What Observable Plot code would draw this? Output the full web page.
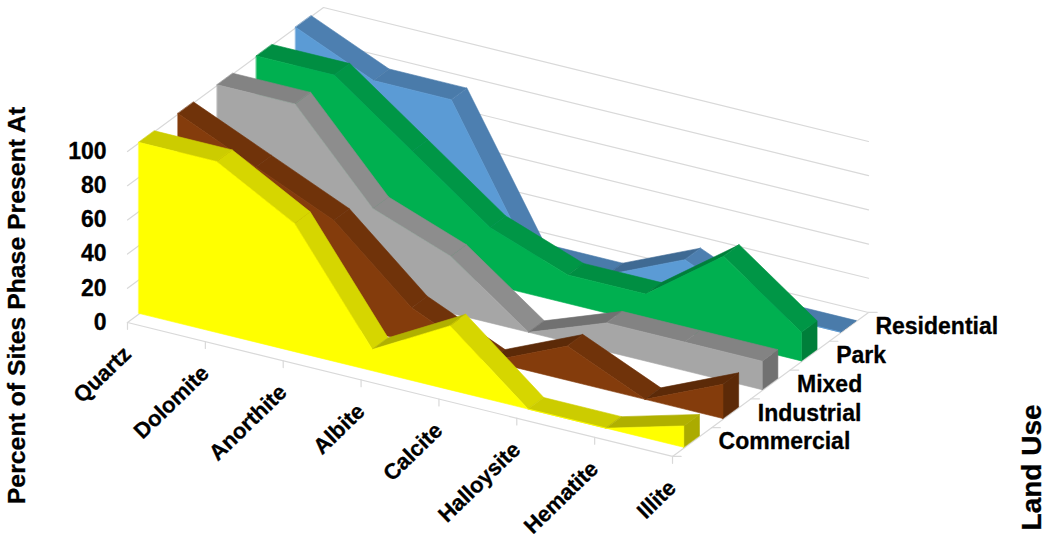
<!DOCTYPE html>
<html>
<head>
<meta charset="utf-8">
<style>html,body{margin:0;padding:0;background:#fff}svg{display:block}</style>
<script src="https://cdn.jsdelivr.net/npm/d3@7"></script>
<script src="https://cdn.jsdelivr.net/npm/@observablehq/plot@0.6"></script>
</head>
<body>
<script>
const categories = ["Quartz","Dolomite","Anorthite","Albite","Calcite","Halloysite","Hematite","Illite"];
const landUse = ["Commercial","Industrial","Mixed","Park","Residential"];
const commercial = [100,100,75,12.5,37.5,0,0,12.5];
const industrial = [100,80,60,20,0,20,0,20];
const mixed = [100,100,50,33.3,0,16.7,16.7,16.7];
const park = [100,100,66.7,33.3,16.7,16.7,50,16.7];
const residential = [100,80,80,0,0,20,0,0];
const valueTicks = [0,20,40,60,80,100];
const seriesValues = [commercial,industrial,mixed,park,residential];
// face, falling top, flat top, rising top, end cap
const palettes = [
  {face:"#FFFF00",down:"#D6D600",flat:"#CCCC00",up:"#B0B000",end:"#ABAB00"},
  {face:"#843C0C",down:"#70330A",flat:"#6C3109",up:"#5C2A08",end:"#5C2A08"},
  {face:"#A6A6A6",down:"#8D8D8D",flat:"#838383",up:"#717171",end:"#717171"},
  {face:"#00B050",down:"#009646",flat:"#008E42",up:"#007F3A",end:"#007F3A"},
  {face:"#5B9BD5",down:"#4D7FB0",flat:"#4A7BAA",up:"#3F6A93",end:"#3F6A93"}
];
// Oblique projection of (category, value, depth) into the chart's plane.
const depthX = 0.5035, depthY = 16.84, slopeY = -11.19;
const gapFront = 0.3, gapBack = 0.7;
const px = (c, d) => c + depthX * d;
const py = (c, v, d) => v + slopeY * c + depthY * d;
const font = {fontFamily:"'Liberation Sans',Arial,sans-serif", fontWeight:"bold", fill:"#000", stroke:"#000", strokeWidth:0.3};
const grid = {stroke:"#D9D9D9", strokeWidth:1.2};
const n = categories.length - 1, nd = landUse.length;
const cs = d3.range(categories.length);
const line = pts => Plot.line(pts, {x:d=>d[0], y:d=>d[1], ...grid});
const pt = (c,v,d) => [px(c,d), py(c,v,d)];
const marks = [];
// walls
for (const v of valueTicks) {
  marks.push(line([pt(0,v,0), pt(0,v,nd), pt(n,v,nd)]));
}
// floor
marks.push(line([pt(0,0,0), pt(n,0,0), pt(n,0,nd)]));
for (const c of cs) marks.push(line([pt(c,0,0), pt(c,-4,0)]));
for (const s of d3.range(nd+1)) {
  const p = pt(n,0,s);
  marks.push(line([p, [p[0]+0.11, p[1]]]));
}
const poly = (rows, fill) => Plot.area(rows, {x1:"x1",y1:"y1",x2:"x2",y2:"y2",fill,stroke:fill,strokeWidth:0.6});
// series, back to front
for (let s = nd-1; s >= 0; s--) {
  const vals = seriesValues[s], col = palettes[s], d0 = s+gapFront, d1 = s+gapBack;
  // end cap
  marks.push(poly([
    {x1:px(n,d0),y1:py(n,0,d0),x2:px(n,d0),y2:py(n,vals[n],d0)},
    {x1:px(n,d1),y1:py(n,0,d1),x2:px(n,d1),y2:py(n,vals[n],d1)}
  ], col.end));
  // top bands
  for (let c = 0; c < n; c++) {
    const dv = vals[c+1]-vals[c];
    const fill = dv > 0 ? col.up : dv < 0 ? col.down : col.flat;
    marks.push(poly([c,c+1].map(k => ({
      x1:px(k,d0),y1:py(k,vals[k],d0),x2:px(k,d1),y2:py(k,vals[k],d1)
    })), fill));
  }
  // front face
  marks.push(poly(cs.map(c => ({
    x1:px(c,d0),y1:py(c,0,d0),x2:px(c,d0),y2:py(c,vals[c],d0)
  })), col.face));
}
// labels
marks.push(Plot.text(valueTicks, {x:()=>px(0,0), y:v=>py(0,v,0), text:v=>String(v), textAnchor:"end", dx:-21, dy:0, fontSize:23, ...font}));
marks.push(Plot.text(categories, {x:(d,i)=>px(i,0), y:(d,i)=>py(i,0,0), text:d=>d, textAnchor:"end", rotate:-44, dx:0, dy:28, fontSize:22, ...font}));
marks.push(Plot.text(landUse, {x:(d,i)=>px(n,i+0.5), y:(d,i)=>py(n,0,i+0.5), text:d=>d, textAnchor:"start", dx:26.5, dy:0, fontSize:23, ...font}));
marks.push(Plot.text(["Percent of Sites Phase Present At"], {x:()=>px(0,0), y:()=>py(0,0,0), text:d=>d, rotate:-90, dx:-110, dy:-17, textAnchor:"middle", fontSize:24.8, ...font}));
marks.push(Plot.text(["Land Use"], {x:()=>px(n,0), y:()=>py(n,0,0), text:d=>d, rotate:-90, dx:360, dy:11, textAnchor:"middle", fontSize:28, ...font}));

const chart = Plot.plot({
  width:1050, height:542, margin:0,
  x:{domain:[-127/77.86,(1050-127)/77.86], range:[0,1050], axis:null},
  y:{domain:[(322-542)/1.71,322/1.71], range:[542,0], axis:null},
  marks
});
document.body.appendChild(chart);
</script>
</body>
</html>
